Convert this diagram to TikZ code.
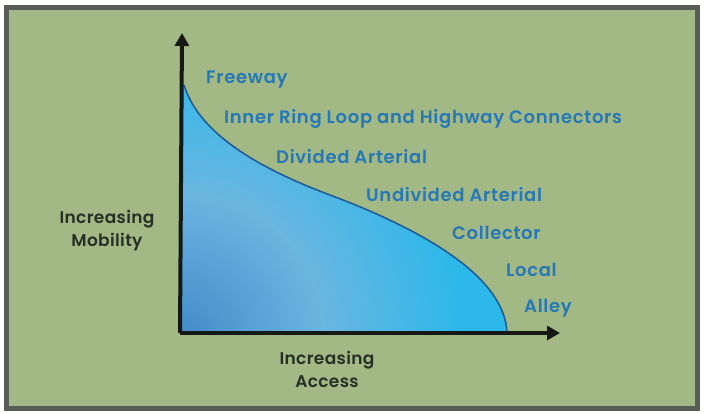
\documentclass[tikz,border=0pt]{standalone}
\usepackage{fontspec}
\setmainfont{Poppins}[BoldFont={Poppins SemiBold}]
\usetikzlibrary{arrows.meta}
\definecolor{panel}{RGB}{162,185,133}
\definecolor{frame}{RGB}{88,92,86}
\definecolor{labelblue}{RGB}{38,120,182}
\definecolor{curveblue}{RGB}{30,95,155}
\definecolor{axisdark}{RGB}{22,24,22}
\definecolor{textdark}{RGB}{40,48,38}
\definecolor{fillA}{RGB}{68,140,202}
\definecolor{fillB}{RGB}{106,182,224}
\definecolor{fillC}{RGB}{44,184,234}
% radial blend from the origin outwards (25bp = radius of the shaded circle)
\pgfdeclareradialshading{areashade}{\pgfpoint{0bp}{0bp}}{%
  color(0bp)=(fillA); color(10bp)=(fillB); color(20bp)=(fillC); color(25bp)=(fillC); color(50bp)=(fillC)}
\tikzset{
  classlabel/.style={anchor=west, text=labelblue, font=\bfseries\fontsize{18}{20}\selectfont\addfontfeature{LetterSpace=3.8}, inner sep=0pt},
  axislabel/.style={align=center, text=textdark, font=\bfseries\fontsize{17}{23}\selectfont\addfontfeature{LetterSpace=2}, inner sep=0pt},
  axisline/.style={draw=axisdark, line width=4pt, -{Triangle[width=14pt,length=13pt]}},
}
\begin{document}
\begin{tikzpicture}[x=1pt, y=-1pt]
  \useasboundingbox (0,0) rectangle (704,413);
  % panel with frame
  \fill[white] (0,0) rectangle (704,413);
  \draw[frame, line width=5pt, fill=panel] (6.5,7.5) rectangle (697.5,408.5);

  % reference points of the chart
  \coordinate (origin) at (182,333);
  \coordinate (ytop) at (182,33);
  \coordinate (xend) at (560,333);
  \coordinate (cstart) at (184,85);
  \coordinate (cmid) at (330,195);
  \coordinate (cend) at (507,333);

  % shaded region under the curve
  \begin{scope}
    \clip (origin) -- (182,85) -- (cstart)
      .. controls (198,130) and (250,165) .. (cmid)
      .. controls (418,228) and (505,275) .. (cend) -- cycle;
    \shade[shading=areashade] (origin) circle (350);
  \end{scope}
  \draw[curveblue, line width=1.6pt]
    (cstart) .. controls (198,130) and (250,165) .. (cmid)
    .. controls (418,228) and (505,275) .. (cend);

  % axes
  \draw[axisline] (180,333) -- (ytop);
  \draw[axisline] (180,333) -- (xend);

  % road classes
  \node[classlabel] (freeway) at (206,80) {Freeway};
  \node[classlabel] (ring) at (224,119) {Inner Ring Loop and Highway Connectors};
  \node[classlabel] (divided) at (276,157) {Divided Arterial};
  \node[classlabel] (undivided) at (366,195) {Undivided Arterial};
  \node[classlabel] (collector) at (452,233) {Collector};
  \node[classlabel] (local) at (506,270) {Local};
  \node[classlabel] (alley) at (524,308) {Alley};

  % axis titles
  \node[axislabel] (mobility) at (107,231) {Increasing\\Mobility};
  \node[axislabel] (access) at (327,369) {Increasing\\Access};
\end{tikzpicture}
\end{document}
